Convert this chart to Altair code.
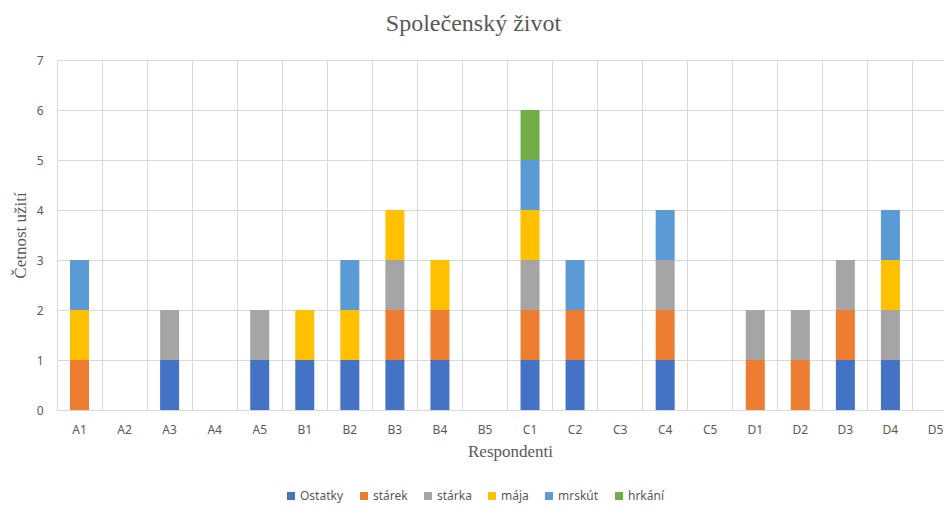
import altair as alt
import pandas as pd

respondenti = ["A1", "A2", "A3", "A4", "A5", "B1", "B2", "B3", "B4", "B5",
               "C1", "C2", "C3", "C4", "C5", "D1", "D2", "D3", "D4", "D5"]
serie = ["Ostatky", "stárek", "stárka", "mája", "mrskút", "hrkání"]
barvy = ["#4472C4", "#ED7D31", "#A5A5A5", "#FFC000", "#5B9BD5", "#70AD47"]

ostatky = [0, 0, 1, 0, 1, 1, 1, 1, 1, 0, 1, 1, 0, 1, 0, 0, 0, 1, 1, 0]
starek  = [1, 0, 0, 0, 0, 0, 0, 1, 1, 0, 1, 1, 0, 1, 0, 1, 1, 1, 0, 0]
starka  = [0, 0, 1, 0, 1, 0, 0, 1, 0, 0, 1, 0, 0, 1, 0, 1, 1, 1, 1, 0]
maja    = [1, 0, 0, 0, 0, 1, 1, 1, 1, 0, 1, 0, 0, 0, 0, 0, 0, 0, 1, 0]
mrskut  = [1, 0, 0, 0, 0, 0, 1, 0, 0, 0, 1, 1, 0, 1, 0, 0, 0, 0, 1, 0]
hrkani  = [0, 0, 0, 0, 0, 0, 0, 0, 0, 0, 1, 0, 0, 0, 0, 0, 0, 0, 0, 0]

hodnoty = [ostatky, starek, starka, maja, mrskut, hrkani]
rows = []
for i, (s, vals) in enumerate(zip(serie, hodnoty)):
    for r, v in zip(respondenti, vals):
        if v > 0:
            rows.append({"Respondent": r, "Serie": s, "Pocet": v, "idx": i})
df = pd.DataFrame(rows)

label_font = "Noto Sans"
serif = "Liberation Serif"

chart = alt.Chart(df).mark_bar(size=19).encode(
    x=alt.X("Respondent:N", sort=respondenti,
            scale=alt.Scale(domain=respondenti, range=[0, 901],
                            paddingInner=0, paddingOuter=0),
            axis=alt.Axis(title="Respondenti", labelAngle=0, ticks=False,
                          bandPosition=0, grid=True, gridColor="#D9D9D9",
                          domainColor="#D9D9D9", labelColor="#595959",
                          labelFont=label_font, labelFontSize=12, labelPadding=14,
                          titleFont=serif, titleFontSize=17, titleFontWeight="normal",
                          titleColor="#595959", titlePadding=8, titleX=453)),
    y=alt.Y("sum(Pocet):Q", stack="zero",
            scale=alt.Scale(domain=[0, 7], nice=False),
            axis=alt.Axis(title="Četnost užití", values=[0, 1, 2, 3, 4, 5, 6, 7],
                          ticks=False, domain=False, grid=True, gridColor="#D9D9D9",
                          labelColor="#595959", labelFont=label_font, labelFontSize=12,
                          labelPadding=14, titleFont=serif, titleFontSize=17,
                          titleFontWeight="normal", titleColor="#595959",
                          titleX=-37, titleBaseline="middle")),
    color=alt.Color("Serie:N", scale=alt.Scale(domain=serie, range=barvy),
                    legend=alt.Legend(title=None, orient="none", direction="horizontal",
                                      legendX=228, legendY=430, symbolType="square",
                                      symbolSize=64, symbolStrokeWidth=0,
                                      labelFont=label_font, labelFontSize=12,
                                      labelColor="#595959", columnPadding=14,
                                      labelOffset=3)),
    order=alt.Order("idx:Q", sort="ascending"),
).properties(
    width=887, height=350,
    title=alt.TitleParams("Společenský život", font=serif, fontSize=24,
                          fontWeight="normal", color="#595959", anchor="middle",
                          dx=-27, offset=18),
    autosize=alt.AutoSizeParams(type="none"),
    padding={"left": 49, "top": 52, "right": 0, "bottom": 97},
).configure_view(stroke=None)

chart.save("out.html", embed_options={"renderer": "svg", "actions": False})
